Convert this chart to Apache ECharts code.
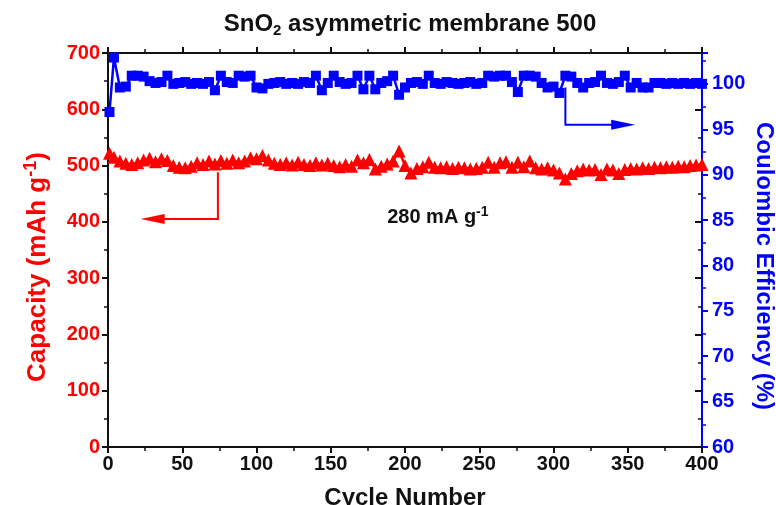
<!DOCTYPE html>
<html lang="en">
<head>
    <meta charset="UTF-8">
    <title>SnO2 asymmetric membrane 500</title>
    <style>
        html, body { margin: 0; padding: 0; background: #fff; }
        #main { width: 776px; height: 505px; }
    </style>
    <script src="https://cdn.jsdelivr.net/npm/echarts@6/dist/echarts.min.js"></script>
</head>
<body>
    <div id="main"></div>
    <script>
        // cycle numbers (sampled every 4 cycles)
        var cycles = [1, 4, 8, 12, 16, 20, 24, 28, 32, 36, 40, 44, 48, 52, 56, 60, 64, 68, 72, 76, 80,
            84, 88, 92, 96, 100, 104, 108, 112, 116, 120, 124, 128, 132, 136, 140, 144, 148, 152, 156, 160,
            164, 168, 172, 176, 180, 184, 188, 192, 196, 200, 204, 208, 212, 216, 220, 224, 228, 232, 236, 240,
            244, 248, 252, 256, 260, 264, 268, 272, 276, 280, 284, 288, 292, 296, 300, 304, 308, 312, 316, 320,
            324, 328, 332, 336, 340, 344, 348, 352, 356, 360, 364, 368, 372, 376, 380, 384, 388, 392, 396, 400];

        // discharge capacity (mAh g-1)
        var capacity = [522, 515, 508, 504, 502, 505, 510, 513, 507, 512, 509, 500, 497, 496, 499, 505, 502, 508, 503, 509, 504,
            510, 505, 508, 514, 512, 518, 510, 504, 502, 505, 501, 506, 502, 500, 505, 501, 504, 500, 498, 502,
            499, 510, 505, 511, 494, 499, 503, 508, 526, 500, 487, 495, 498, 506, 497, 496, 498, 495, 497, 496,
            494, 495, 497, 506, 497, 505, 507, 497, 506, 498, 508, 496, 494, 496, 492, 487, 476, 486, 491, 494,
            492, 493, 484, 494, 492, 486, 493, 495, 494, 496, 495, 497, 496, 498, 497, 499, 498, 500, 501, 502];

        // coulombic efficiency (%)
        var efficiency = [96.9, 102.9, 99.6, 99.7, 100.9, 100.9, 100.8, 100.3, 100.1, 100.2, 100.9, 100.0, 100.1, 100.2, 100.0, 100.1, 100.0, 100.2, 99.3, 100.9, 100.2,
            100.1, 100.9, 100.8, 100.9, 99.6, 99.5, 100.0, 100.1, 100.2, 100.0, 100.1, 100.0, 100.2, 100.1, 100.9, 99.3, 100.1, 100.9, 100.2, 100.0,
            100.1, 100.9, 99.4, 100.9, 99.4, 100.1, 100.3, 100.9, 98.8, 99.6, 100.1, 100.2, 100.0, 100.9, 100.1, 100.0, 100.2, 100.1, 100.0, 100.1,
            100.2, 100.0, 100.1, 100.9, 100.8, 100.9, 100.9, 100.2, 99.1, 100.9, 100.9, 100.8, 100.1, 99.6, 99.7, 99.0, 100.9, 100.8, 100.1, 99.6,
            100.1, 100.2, 100.9, 100.1, 100.0, 100.2, 100.9, 99.6, 100.1, 99.6, 99.6, 100.1, 100.1, 100.0, 100.1, 100.0, 100.1, 100.0, 100.1, 100.0];

        var capTicks = [0, 100, 200, 300, 400, 500, 600, 700];
        var effTicks = [60, 65, 70, 75, 80, 85, 90, 95, 100];
        var cycleTicks = [0, 50, 100, 150, 200, 250, 300, 350, 400];

        var FONT = "'Liberation Sans', Arial, sans-serif";
        var RED = '#ff0000';
        var BLUE = '#0000ff';
        var INK = '#111';

        var capData = cycles.map(function (c, i) { return [c, capacity[i]]; });
        var effData = cycles.map(function (c, i) { return [c, efficiency[i]]; });

        var myChart = echarts.init(document.getElementById('main'));

        function tickStyle(color) {
            return {
                nameMoveOverlap: false,
                axisLine: { show: true, onZero: false, lineStyle: { color: color, width: 2 } },
                axisTick: { inside: false, length: 6, lineStyle: { color: color, width: 2 } },
                minorTick: { show: true, splitNumber: 2, length: 4, lineStyle: { color: color, width: 1.5 } },
                splitLine: { show: false }
            };
        }

        var option = {
            animation: false,
            backgroundColor: '#fff',
            title: {
                text: 'SnO{sub|2} asymmetric membrane 500',
                left: 405,
                textAlign: 'center',
                top: 6,
                textStyle: {
                    fontFamily: FONT, fontWeight: 'bold', fontSize: 24, color: INK,
                    rich: {
                        sub: { fontFamily: FONT, fontWeight: 'bold', fontSize: 15, color: INK, verticalAlign: 'bottom', padding: [12, 0, 0, 0] }
                    }
                }
            },
            grid: { left: 108, right: 74, top: 53, bottom: 58, containLabel: false, outerBoundsMode: 'none' },
            xAxis: [Object.assign({
                type: 'value',
                min: 0, max: 400, interval: 50,
                name: 'Cycle Number',
                nameLocation: 'middle',
                nameGap: 39,
                nameTextStyle: { fontFamily: FONT, fontWeight: 'bold', fontSize: 24, color: INK },
                axisLabel: {
                    fontFamily: FONT, fontWeight: 'bold', fontSize: 20, color: INK, margin: 7,
                    formatter: function (v) { return cycleTicks.indexOf(v) >= 0 ? v : ''; }
                }
            }, tickStyle(INK)), Object.assign({
                type: 'value',
                position: 'top',
                min: 0, max: 400, interval: 50,
                axisLabel: { show: false }
            }, tickStyle(INK))],
            yAxis: [Object.assign({
                type: 'value',
                position: 'left',
                min: 0, max: 700, interval: 100,
                name: 'Capacity (mAh g{sup|-1})',
                nameLocation: 'middle',
                nameRotate: 90,
                nameGap: 55,
                nameTextStyle: {
                    fontFamily: FONT, fontWeight: 'bold', fontSize: 26, color: RED,
                    padding: [0, 34, 0, 0],
                    rich: {
                        sup: { fontFamily: FONT, fontWeight: 'bold', fontSize: 18, color: RED, verticalAlign: 'top', padding: [0, 0, 13, 0] }
                    }
                },
                axisLabel: {
                    fontFamily: FONT, fontWeight: 'bold', fontSize: 20, color: RED, margin: 8,
                    formatter: function (v) { return capTicks.indexOf(v) >= 0 ? v : ''; }
                }
            }, tickStyle(INK)), Object.assign({
                type: 'value',
                position: 'right',
                min: 60, max: 103.4, interval: 5,
                name: 'Coulombic Efficiency (%)',
                nameLocation: 'middle',
                nameRotate: -90,
                nameGap: 50,
                nameTextStyle: {
                    fontFamily: FONT, fontWeight: 'bold', fontSize: 24, color: BLUE,
                    padding: [0, 0, 0, 32]
                },
                axisLabel: {
                    fontFamily: FONT, fontWeight: 'bold', fontSize: 20, color: BLUE, margin: 10,
                    showMaxLabel: false,
                    formatter: function (v) { return effTicks.indexOf(v) >= 0 ? v : ''; }
                }
            }, tickStyle(BLUE)), {
                // mirror of the capacity ticks on the right edge
                type: 'value',
                position: 'right',
                offset: 0,
                min: 0, max: 700, interval: 100,
                axisLine: { show: false, onZero: false },
                axisTick: { inside: true, length: 7, lineStyle: { color: INK, width: 2 } },
                minorTick: { show: true, splitNumber: 2, length: 4, lineStyle: { color: INK, width: 1.5 } },
                axisLabel: { show: false },
                splitLine: { show: false }
            }],
            series: [{
                name: 'Capacity',
                type: 'line',
                xAxisIndex: 0,
                yAxisIndex: 0,
                data: capData,
                symbol: 'triangle',
                symbolSize: 13,
                itemStyle: { color: RED },
                lineStyle: { color: RED, width: 2.5 },
                z: 3
            }, {
                name: 'Coulombic Efficiency',
                type: 'line',
                xAxisIndex: 0,
                yAxisIndex: 1,
                data: effData,
                symbol: 'rect',
                symbolSize: 10,
                itemStyle: { color: BLUE },
                lineStyle: { color: BLUE, width: 2.5 },
                z: 3
            }]
        };

        myChart.setOption(option);

        // arrows and current-density note, placed through the axis scales
        function px(axis, x, y) {
            return myChart.convertToPixel({ xAxisIndex: 0, yAxisIndex: axis }, [x, y]);
        }

        function arrow(points, color, left) {
            var tip = points[points.length - 1];
            var dir = left ? 1 : -1;
            return [{
                type: 'polyline',
                shape: { points: points.slice(0, -1).concat([[tip[0] + dir * 20, tip[1]]]) },
                style: { stroke: color, lineWidth: 2, fill: null },
                z: 10
            }, {
                type: 'polygon',
                shape: { points: [tip, [tip[0] + dir * 24, tip[1] - 5], [tip[0] + dir * 24, tip[1] + 5]] },
                style: { fill: color },
                z: 10
            }];
        }

        var redArrow = arrow([px(0, 74, 488), px(0, 74, 405), px(0, 22, 405)], RED, true);
        var blueArrow = arrow([px(1, 308, 99.6), px(1, 308, 95.5), px(1, 355, 95.5)], BLUE, false);
        var notePos = px(0, 188, 408);

        myChart.setOption({
            graphic: redArrow.concat(blueArrow).concat([{
                type: 'text',
                x: notePos[0],
                y: notePos[1],
                style: {
                    text: '280 mA g{sup|-1}',
                    fontFamily: FONT, fontWeight: 'bold', fontSize: 20, fill: INK,
                    align: 'left', verticalAlign: 'middle',
                    rich: {
                        sup: { fontFamily: FONT, fontWeight: 'bold', fontSize: 14, fill: INK, verticalAlign: 'top', padding: [0, 0, 11, 0] }
                    }
                },
                z: 10
            }])
        });
    </script>
</body>
</html>
